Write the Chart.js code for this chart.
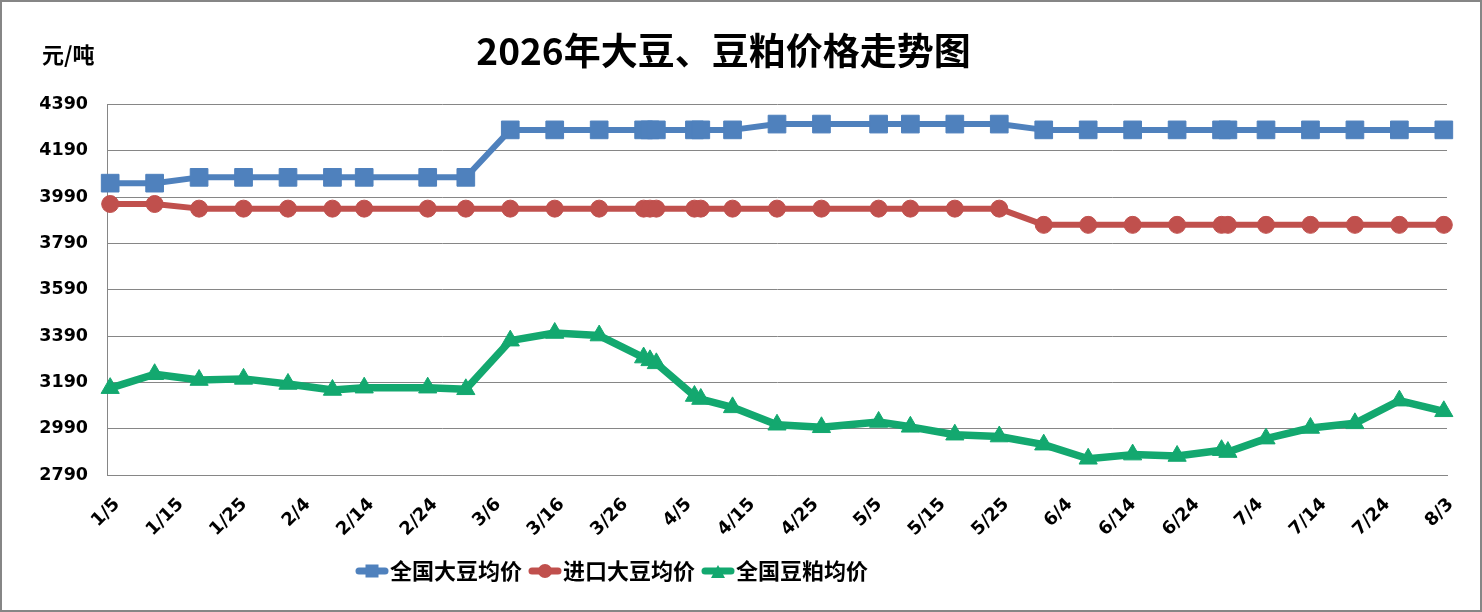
<!DOCTYPE html>
<html>
<head>
<meta charset="utf-8">
<title>2026年大豆、豆粕价格走势图</title>
<script src="https://cdn.jsdelivr.net/npm/chart.js@4.4.1/dist/chart.umd.min.js"></script>
<style>
  html, body { margin: 0; padding: 0; background: #fff; }
  #wrap { width: 1482px; height: 612px; position: relative; }
</style>
</head>
<body>
<div id="wrap"><canvas id="priceChart"></canvas></div>
<script>
// day of year (2026) for each observation
const dateDays = [5, 12, 19, 26, 33, 40, 45, 55, 61, 68, 75, 82, 89, 90, 91, 97, 98, 103,
                  110, 117, 126, 131, 138, 145, 152, 159, 166, 173, 180, 181, 187, 194, 201, 208, 215];

const seriesNames = ['全国大豆均价', '进口大豆均价', '全国豆粕均价'];

const soyNational = [4050, 4050, 4075, 4075, 4075, 4075, 4075, 4075, 4075,
                     4280, 4280, 4280, 4280, 4280, 4280, 4280, 4280, 4280,
                     4305, 4305, 4305, 4305, 4305, 4305,
                     4280, 4280, 4280, 4280, 4280, 4280, 4280, 4280, 4280, 4280, 4280];

const soyImported = [3960, 3960, 3940, 3940, 3940, 3940, 3940, 3940, 3940,
                     3940, 3940, 3940, 3940, 3940, 3940, 3940, 3940, 3940,
                     3940, 3940, 3940, 3940, 3940, 3940,
                     3870, 3870, 3870, 3870, 3870, 3870, 3870, 3870, 3870, 3870, 3870];

const mealNational = [3165, 3225, 3200, 3205, 3183, 3157, 3167, 3167, 3160,
                      3370, 3403, 3392, 3297, 3285, 3272, 3131, 3118, 3082,
                      3007, 2996, 3019, 2998, 2964, 2956,
                      2921, 2860, 2878, 2872, 2897, 2889, 2947, 2993, 3013, 3111, 3065];

const xTickDays = [5, 15, 25, 35, 45, 55, 65, 75, 85, 95, 105, 115, 125, 135, 145, 155, 165, 175, 185, 195, 205, 215];
const xTickLabels = ['1/5', '1/15', '1/25', '2/4', '2/14', '2/24', '3/6', '3/16', '3/26', '4/5', '4/15',
                     '4/25', '5/5', '5/15', '5/25', '6/4', '6/14', '6/24', '7/4', '7/14', '7/24', '8/3'];
const yTickValues = [2790, 2990, 3190, 3390, 3590, 3790, 3990, 4190, 4390];

const colors = ['#4F81BD', '#C0504D', '#13A86F'];
const cjkFont = '"Noto Sans CJK SC", "Noto Sans", sans-serif';
const numFamily = '"DejaVu Sans", sans-serif';

function toPoints(values) {
    return dateDays.map((d, i) => ({ x: d, y: values[i] }));
}

// small line + marker icons for the legend
function legendIcon(color, shape) {
    const c = document.createElement('canvas');
    c.width = 34; c.height = 22;
    const g = c.getContext('2d');
    g.strokeStyle = color;
    g.fillStyle = color;
    g.lineWidth = 7;
    g.lineCap = 'round';
    g.beginPath(); g.moveTo(4, 11); g.lineTo(30, 11); g.stroke();
    g.beginPath();
    if (shape === 'rect') {
        g.rect(10.5, 4.5, 13, 13);
    } else if (shape === 'circle') {
        g.arc(17, 11, 7, 0, Math.PI * 2);
    } else {
        g.moveTo(17, 5); g.lineTo(24, 18); g.lineTo(10, 18); g.closePath();
    }
    g.fill();
    return c;
}
const icons = [legendIcon(colors[0], 'rect'), legendIcon(colors[1], 'circle'), legendIcon(colors[2], 'triangle')];

// legend sits left of centre in the original
const legendShift = {
    id: 'legendShift',
    afterLayout(chart) {
        const lg = chart.legend;
        if (lg) lg.left = 349;
    }
};

const extras = {
    id: 'extras',
    afterDraw(chart) {
        const ctx = chart.ctx;
        ctx.save();
        ctx.fillStyle = '#000';
        ctx.font = 'bold 22px ' + cjkFont;
        ctx.textAlign = 'left';
        ctx.textBaseline = 'middle';
        ctx.fillText('元/吨', 42, 55);
        ctx.strokeStyle = '#868686';
        ctx.lineWidth = 2;
        ctx.strokeRect(1, 1, chart.width - 2, chart.height - 2);
        ctx.restore();
    }
};

const shapes = ['rect', 'circle', 'triangle'];
const radii = [12.5, 8.5, 10.5];
const widths = [6, 6, 7.5];
const seriesData = [soyNational, soyImported, mealNational];

const datasets = seriesData.map((vals, i) => ({
    label: seriesNames[i],
    data: toPoints(vals),
    borderColor: colors[i],
    backgroundColor: colors[i],
    borderWidth: widths[i],
    borderJoinStyle: 'round',
    pointStyle: shapes[i],
    pointRadius: radii[i],
    pointHoverRadius: radii[i],
    pointBackgroundColor: colors[i],
    pointBorderColor: colors[i],
    pointBorderWidth: 1,
    tension: 0,
    clip: false
}));

new Chart(document.getElementById('priceChart'), {
    type: 'line',
    data: { datasets: datasets },
    plugins: [legendShift, extras],
    options: {
        responsive: true,
        maintainAspectRatio: false,
        animation: false,
        layout: { padding: { left: 0, right: 35, top: 0, bottom: 20 } },
        plugins: {
            title: {
                display: true,
                text: '2026年大豆、豆粕价格走势图',
                color: '#000',
                font: { family: cjkFont, size: 37, weight: 'bold' },
                padding: { top: 29, bottom: 31 }
            },
            legend: {
                position: 'bottom',
                align: 'start',
                labels: {
                    usePointStyle: true,
                    pointStyleWidth: 14,
                    padding: 16,
                    color: '#000',
                    font: { family: cjkFont, size: 22, weight: 'bold' },
                    generateLabels(chart) {
                        const items = Chart.defaults.plugins.legend.labels.generateLabels(chart);
                        items.forEach((it, i) => { it.pointStyle = icons[i]; });
                        return items;
                    }
                }
            },
            tooltip: { enabled: false }
        },
        scales: {
            x: {
                type: 'linear',
                min: 4.5,
                max: 215.5,
                afterBuildTicks(scale) {
                    scale.ticks = xTickDays.map(v => ({ value: v }));
                },
                afterFit(scale) { scale.height = 69; },
                ticks: {
                    autoSkip: false,
                    minRotation: 45,
                    maxRotation: 45,
                    padding: 19,
                    labelOffset: 7,
                    color: '#000',
                    font: { family: numFamily, size: 18, weight: 'bold' },
                    callback: (value, index) => xTickLabels[index]
                },
                grid: { display: false, drawTicks: false },
                border: { display: true, color: '#868686', width: 1 }
            },
            y: {
                min: 2790,
                max: 4390,
                afterBuildTicks(scale) {
                    scale.ticks = yTickValues.map(v => ({ value: v }));
                },
                afterFit(scale) { scale.width = 107; },
                ticks: {
                    padding: 19,
                    color: '#000',
                    font: { family: numFamily, size: 17.5, weight: 'bold' },
                    callback: value => String(value)
                },
                grid: { color: '#868686', lineWidth: 1, drawTicks: false },
                border: { display: true, color: '#868686', width: 1 }
            }
        }
    }
});
</script>
</body>
</html>
